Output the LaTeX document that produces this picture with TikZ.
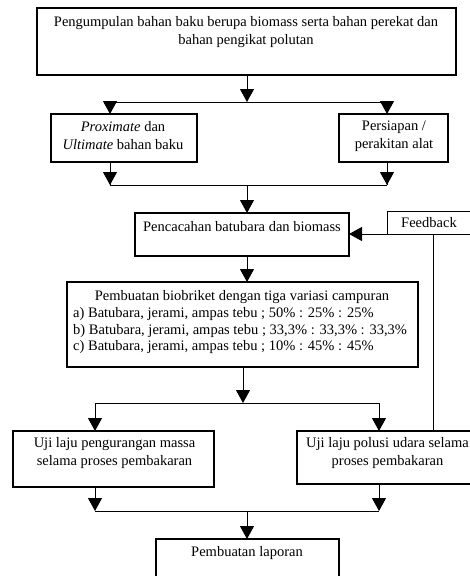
\documentclass[tikz,border=0pt]{standalone}
\usepackage{fontspec}
\setmainfont{Liberation Serif}
\usetikzlibrary{arrows.meta}
\begin{document}
\begin{tikzpicture}[x=1pt,y=-1pt,
  box/.style={draw, line width=1.3pt, inner sep=0pt, outer sep=0pt},
  txt/.style={inner sep=0pt, align=center, font=\fontsize{14.5}{18}\selectfont},
  conn/.style={line width=1pt},
  arr/.style={line width=1pt, -{Triangle[width=14pt,length=13pt]}}]
\useasboundingbox (0,0) rectangle (470,576);
\clip (0,0) rectangle (470,576);
% boxes
\node[box, minimum width=419pt, minimum height=67pt] (T) at (246.5,41.5) {};
\node[box, minimum width=146pt, minimum height=48pt] (P) at (124,138) {};
\node[box, minimum width=109pt, minimum height=48pt] (S) at (393.5,138) {};
\node[box, minimum width=214pt, minimum height=43pt] (C) at (242,234.5) {};
\node[box, line width=1pt, minimum width=93pt, minimum height=23pt] (F) at (433.5,222.5) {};
\node[box, minimum width=351pt, minimum height=85pt] (B) at (242.5,324.5) {};
\node[box, minimum width=201pt, minimum height=56pt] (U1) at (113.5,459) {};
\node[box, minimum width=183pt, minimum height=53pt] (U2) at (388.5,457.5) {};
\node[box, minimum width=183pt, minimum height=51pt] (L) at (247.5,564.5) {};
% texts
\node[txt] (tT) at (246,32.5) {Pengumpulan bahan baku berupa biomass serta bahan perekat dan\\bahan pengikat polutan};
\node[txt] (tP) at (123,136) {\textit{Proximate} dan\\\textit{Ultimate} bahan baku};
\node[txt] (tS) at (394,136) {Persiapan /\\perakitan alat};
\node[txt] (tC) at (242,227) {Pencacahan batubara dan biomass};
\node[txt] (tF) at (429,223) {Feedback};
\node[txt] (tB1) at (242,297) {Pembuatan biobriket dengan tiga variasi campuran};
\node[txt, anchor=west] (tB2) at (73,314) {a) Batubara, jerami, ampas tebu ; 50\% : 25\% : 25\%};
\node[txt, anchor=west] (tB3) at (73,331) {b) Batubara, jerami, ampas tebu ; 33,3\% : 33,3\% : 33,3\%};
\node[txt, anchor=west] (tB4) at (73,347) {c) Batubara, jerami, ampas tebu ; 10\% : 45\% : 45\%};
\node[txt] (tU1) at (114.5,453.5) {Uji laju pengurangan massa\\selama proses pembakaran};
\node[txt] (tU2) at (387.5,453.5) {Uji laju polusi udara selama\\proses pembakaran};
\node[txt] (tL) at (247,553) {Pembuatan laporan};
% junctions
\coordinate (c1) at (247,102);
\coordinate (l1) at (110,102);
\coordinate (r1) at (387,102);
\coordinate (c2) at (247,185);
\coordinate (l2) at (110,185);
\coordinate (r2) at (387,185);
\coordinate (c3) at (243,403);
\coordinate (l3) at (95,403);
\coordinate (r3) at (379,403);
\coordinate (c4) at (247,511);
\coordinate (l4) at (95,511);
\coordinate (r4) at (379,511);
% connectors
\draw[arr] (T.south -| c1) -- (c1);
\draw[conn] (l1) -- (r1);
\draw[arr] (l1) -- (l1 |- P.north);
\draw[arr] (r1) -- (r1 |- S.north);
\draw[conn] (l1 |- P.south) -- (l2);
\draw[conn] (r1 |- S.south) -- (r2);
\draw[arr] (l1 |- P.south) -- (l2);
\draw[arr] (r1 |- S.south) -- (r2);
\draw[conn] (l2) -- (r2);
\draw[arr] (c2) -- (c2 |- C.north);
\draw[arr] (C.south -| c2) -- (c2 |- B.north);
\draw[arr] (F.south west) -- (F.south west -| C.east);
\draw[conn] (F.south) -- (F.south |- U2.north);
\draw[arr] (B.south -| c3) -- (c3);
\draw[conn] (l3) -- (r3);
\draw[arr] (l3) -- (l3 |- U1.north);
\draw[arr] (r3) -- (r3 |- U2.north);
\draw[arr] (l3 |- U1.south) -- (l4);
\draw[arr] (r3 |- U2.south) -- (r4);
\draw[conn] (l4) -- (r4);
\draw[arr] (c4) -- (c4 |- L.north);
\end{tikzpicture}
\end{document}
